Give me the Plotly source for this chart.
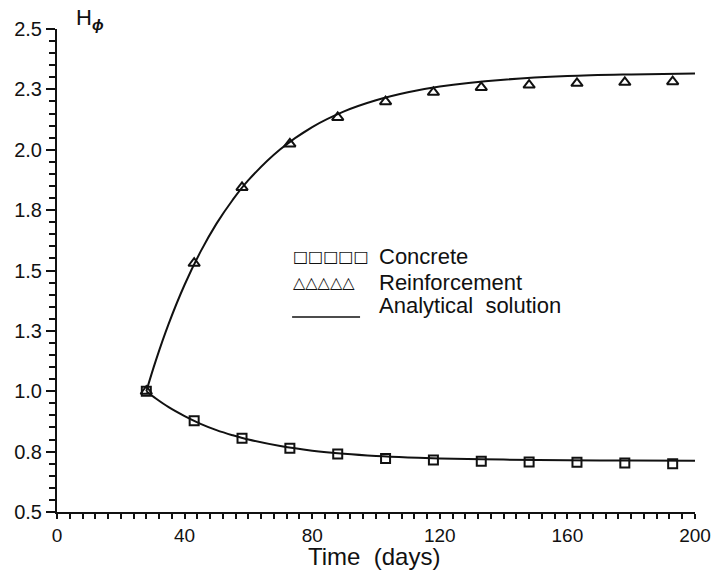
import plotly.graph_objects as go

# Measured points
days = [28, 43, 58, 73, 88, 103, 118, 133, 148, 163, 178, 193]
concrete = [1.00, 0.878, 0.805, 0.764, 0.740, 0.722, 0.715, 0.710, 0.707, 0.706, 0.703, 0.700]
reinforcement = [1.00, 1.530, 1.844, 2.024, 2.134, 2.199, 2.238, 2.258, 2.268, 2.275, 2.279, 2.282]

# Analytical solution
t_an = [28, 31, 35, 40, 45, 50, 55, 60, 70, 80, 90, 100, 110, 120, 140, 160, 180, 200]
conc_an = [1.000, 0.970, 0.934, 0.897, 0.865, 0.839, 0.818, 0.800, 0.773, 0.754,
           0.741, 0.732, 0.726, 0.722, 0.717, 0.714, 0.713, 0.712]
reinf_an = [1.000, 1.128, 1.279, 1.441, 1.578, 1.694, 1.791, 1.874, 2.002, 2.094,
            2.159, 2.205, 2.238, 2.262, 2.290, 2.305, 2.312, 2.316]

x_ticks = [0, 40, 80, 120, 160, 200]
y_ticks = [0.5, 0.75, 1.0, 1.25, 1.5, 1.75, 2.0, 2.25, 2.5]
y_labels = ["0.5", "0.8", "1.0", "1.3", "1.5", "1.8", "2.0", "2.3", "2.5"]

FONT = "Liberation Sans, Arial, sans-serif"
INK = "#111111"

fig = go.Figure()
fig.add_trace(go.Scatter(x=t_an, y=conc_an, mode="lines", line=dict(color=INK, width=2, shape="spline"),
                         showlegend=False, cliponaxis=False))
fig.add_trace(go.Scatter(x=t_an, y=reinf_an, mode="lines", line=dict(color=INK, width=2, shape="spline"),
                         showlegend=False, cliponaxis=False))
fig.add_trace(go.Scatter(x=days, y=concrete, mode="markers",
                         marker=dict(symbol="square-open", size=9, color=INK, line=dict(width=2, color=INK)),
                         showlegend=False))
fig.add_trace(go.Scatter(x=days, y=reinforcement, mode="markers",
                         marker=dict(symbol="triangle-up-open", size=10, color=INK, line=dict(width=2, color=INK)),
                         showlegend=False))

# Legend drawn as text
leg_sym_x = 73.5
leg_txt_x = 100.3
fig.add_annotation(x=leg_sym_x, y=1.556, xref="x", yref="y", xanchor="left", yanchor="middle",
                   text="<b>□□□□□</b>", showarrow=False, font=dict(family="DejaVu Sans", size=16, color=INK))
fig.add_annotation(x=leg_sym_x, y=1.452, xref="x", yref="y", xanchor="left", yanchor="middle",
                   text="<b>△△△△△</b>", showarrow=False, font=dict(family="DejaVu Sans", size=16, color=INK))
fig.add_shape(type="line", x0=73.7, x1=95.0, y0=1.307, y1=1.307, xref="x", yref="y",
              line=dict(color=INK, width=1.5))
for yy, txt in [(1.556, "Concrete"), (1.452, "Reinforcement"), (1.356, "Analytical  solution")]:
    fig.add_annotation(x=leg_txt_x, y=yy, xref="x", yref="y", xanchor="left", yanchor="middle",
                       text=txt, showarrow=False, font=dict(family=FONT, size=22, color=INK))

# y-axis label
fig.add_annotation(x=0.026, y=1.02, xref="paper", yref="paper", xanchor="left", yanchor="middle",
                   text="H<sub><b><i>ϕ</i></b></sub>", showarrow=False,
                   font=dict(family=FONT, size=22, color=INK))

# x-axis title
fig.add_annotation(x=0.497, y=-0.093, xref="paper", yref="paper", xanchor="center", yanchor="middle",
                   text="Time  (days)", showarrow=False, font=dict(family=FONT, size=24, color=INK))

fig.update_layout(
    width=713, height=571,
    margin=dict(l=57, r=18, t=29, b=59),
    paper_bgcolor="white", plot_bgcolor="white",
    font=dict(family=FONT, size=20, color=INK),
    showlegend=False,
)
fig.update_xaxes(range=[0, 200], tickvals=x_ticks, ticks="outside", ticklen=5, tickwidth=1.5,
                 tickcolor=INK, showline=True, linecolor=INK, linewidth=2, showgrid=False, zeroline=False,
                 automargin=False,
                 minor=dict(dtick=4, ticks="outside", ticklen=5, tickwidth=1.5, tickcolor=INK, showgrid=False),
                 tickfont=dict(size=19))
fig.update_yaxes(range=[0.5, 2.5], tickvals=y_ticks, ticktext=y_labels, ticks="outside", ticklen=9,
                 tickwidth=1.5, tickcolor=INK, showline=True, linecolor=INK, linewidth=2, showgrid=False,
                 zeroline=False, automargin=False,
                 minor=dict(dtick=0.05, ticks="outside", ticklen=6, tickwidth=1.5, tickcolor=INK, showgrid=False),
                 tickfont=dict(size=20))

fig.write_html("out.html", config={"displayModeBar": False},
               post_script="document.body.style.margin='0px';document.body.style.overflow='hidden';")
